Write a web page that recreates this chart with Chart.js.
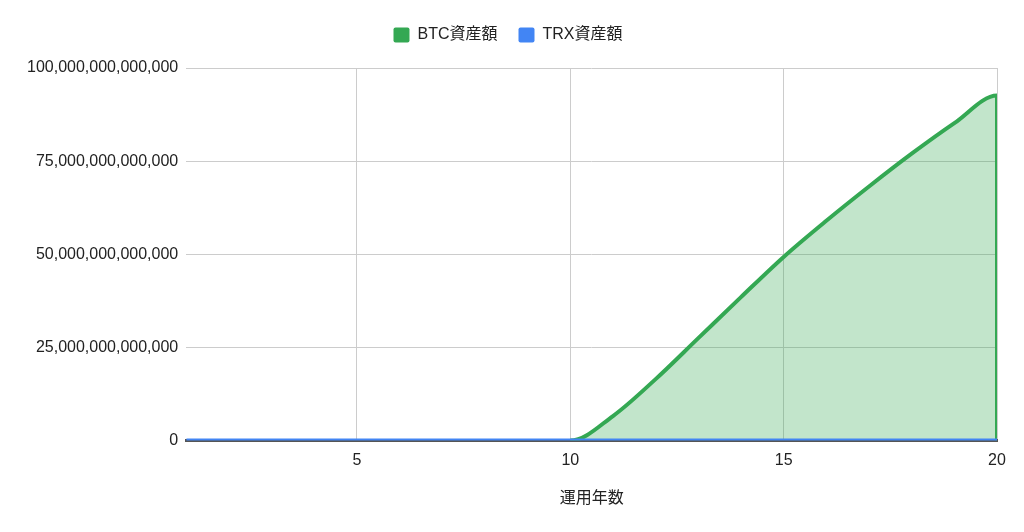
<!DOCTYPE html>
<html>
<head>
<meta charset="utf-8">
<script src="https://cdn.jsdelivr.net/npm/chart.js@4/dist/chart.umd.min.js"></script>
<style>
  html,body{margin:0;padding:0;background:#fff;}
  #wrap{width:1024px;height:532px;}
</style>
</head>
<body>
<div id="wrap"><canvas id="c" width="1024" height="532"></canvas></div>
<script>
// ---- data ----
const years = [1,2,3,4,5,6,7,8,9,10,11,12,13,14,15,16,17,18,19,20];
const btcValues = [0,0,0,0,0,0,0,0,0,0,6.6e12,16.5e12,27.5e12,38.5e12,49.3e12,59e12,68.2e12,77e12,85.2e12,92.6e12];
const btcEnd = {x: 20, y: 0};
const trxValues = [0,0,0,0,0,0,0,0,0,0,0,0,0,0,0,0,0,0,0,0];
const xTicks = [5,10,15,20];
const yTicks = [0,25e12,50e12,75e12,100e12];
const seriesNames = ['BTC資産額','TRX資産額'];
const xTitle = '運用年数';

const FONT = "'Liberation Sans', Arial, 'Noto Sans CJK JP', sans-serif";
const btcData = years.map((x,i)=>({x, y: btcValues[i]})).concat([btcEnd]);
const trxData = years.map((x,i)=>({x, y: trxValues[i]}));

const legendMargin = {
  id: 'legendMargin',
  beforeInit(chart) {
    const orig = chart.legend.fit;
    chart.legend.fit = function() { orig.bind(chart.legend)(); this.height += 15; };
  }
};

new Chart(document.getElementById('c'), {
  type: 'line',
  plugins: [legendMargin],
  data: {
    datasets: [
      {
        label: seriesNames[0],
        data: btcData,
        borderColor: '#34a853',
        backgroundColor: 'rgba(52,168,83,0.3)',
        borderWidth: 4,
        fill: 'origin',
        cubicInterpolationMode: 'monotone',
        pointRadius: 0,
        segment: {
          // flat zero stretch is hidden under the TRX line in the reference
          borderColor: (ctx) => (ctx.p0.parsed.y === 0 && ctx.p1.parsed.y === 0) ? 'rgba(0,0,0,0)' : undefined
        },
        order: 1
      },
      {
        label: seriesNames[1],
        data: trxData,
        borderColor: '#4285f4',
        backgroundColor: '#4285f4',
        borderWidth: 4,
        fill: false,
        tension: 0,
        pointRadius: 0,
        order: 0
      }
    ]
  },
  options: {
    responsive: false,
    animation: false,
    devicePixelRatio: 1,
    layout: { padding: { left: 19, right: 27, top: 6, bottom: 20 } },
    plugins: {
      legend: {
        position: 'top',
        labels: {
          font: { family: FONT, size: 16 },
          color: '#222',
          boxWidth: 16,
          boxHeight: 15,
          padding: 21,
          useBorderRadius: true,
          borderRadius: 2,
          sort: (a,b) => a.datasetIndex - b.datasetIndex,
          generateLabels: (chart) => {
            const items = Chart.defaults.plugins.legend.labels.generateLabels(chart);
            items.forEach(it => { it.fillStyle = it.strokeStyle; it.lineWidth = 0; });
            return items;
          }
        }
      },
      tooltip: { enabled: false }
    },
    scales: {
      x: {
        type: 'linear',
        min: 1,
        max: 20,
        afterBuildTicks: (s) => { s.ticks = xTicks.map(v=>({value:v})); },
        grid: { color: '#cccccc', drawTicks: false },
        border: { display: true, color: '#555555', width: 3 },
        ticks: { font: { family: FONT, size: 16 }, color: '#222', padding: 10, maxRotation: 0 },
        title: { display: true, text: xTitle, font: { family: FONT, size: 16 }, color: '#222', padding: { top: 9 } }
      },
      y: {
        min: 0,
        max: 100e12,
        afterBuildTicks: (s) => { s.ticks = yTicks.map(v=>({value:v})); },
        grid: {
          color: (ctx) => (ctx.tick && ctx.tick.value === 0) ? '#555555' : '#cccccc',
          drawTicks: false
        },
        border: { display: false },
        ticks: {
          font: { family: FONT, size: 16 },
          color: '#222',
          padding: 8,
          callback: (v) => Number(v).toLocaleString('en-US')
        }
      }
    }
  }
});
</script>
</body>
</html>
